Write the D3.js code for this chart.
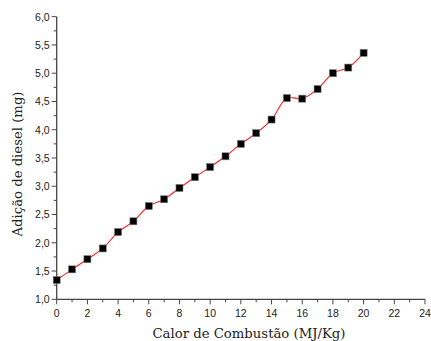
<!DOCTYPE html>
<html><head><meta charset="utf-8">
<script src="https://cdn.jsdelivr.net/npm/d3@7"></script>
<style>body{margin:0;background:#fff}</style>
</head><body>
<svg id="c" width="431" height="341"></svg>
<script>
const xValues = [0,1,2,3,4,5,6,7,8,9,10,11,12,13,14,15,16,17,18,19,20];
const yValues = [1.34,1.53,1.71,1.90,2.19,2.38,2.65,2.77,2.97,3.16,3.34,3.53,3.75,3.94,4.18,4.56,4.55,4.72,5.00,5.10,5.36];
const xTicks = [0,2,4,6,8,10,12,14,16,18,20,22,24];
const yTicks = [1.0,1.5,2.0,2.5,3.0,3.5,4.0,4.5,5.0,5.5,6.0];
const xTitle = "Calor de Combustão (MJ/Kg)";
const yTitle = "Adição de diesel (mg)";

const svg = d3.select("#c");
const x = d3.scaleLinear().domain([0,24]).range([56.7,425]);
const y = d3.scaleLinear().domain([1,6]).range([299.3,16.7]);
const axisColor = "#444";
const fmt = d => d3.format(".1f")(d).replace(".", ",");

// x axis
const gx = svg.append("g");
gx.append("line").attr("x1", x(0)).attr("x2", x(24)).attr("y1", y(1)).attr("y2", y(1))
  .attr("stroke", axisColor).attr("stroke-width", 1.3);
d3.range(0,25,1).forEach(v => {
  const major = v % 2 === 0;
  gx.append("line").attr("x1", x(v)).attr("x2", x(v)).attr("y1", y(1)).attr("y2", y(1) + (major?5:3))
    .attr("stroke", axisColor).attr("stroke-width", 1);
});
xTicks.forEach(v => {
  gx.append("text").attr("x", x(v)).attr("y", y(1)+18).attr("text-anchor","middle")
    .attr("font-family","Liberation Sans, Arial, sans-serif").attr("font-size", 10.5).attr("fill","#222").text(v);
});

// y axis
const gy = svg.append("g");
gy.append("line").attr("x1", x(0)).attr("x2", x(0)).attr("y1", y(1)).attr("y2", y(6))
  .attr("stroke", axisColor).attr("stroke-width", 1.3);
d3.range(0,21,1).forEach(i => {
  const v = 1 + i*0.25;
  const major = i % 2 === 0;
  gy.append("line").attr("x1", x(0)).attr("x2", x(0) - (major?5:3)).attr("y1", y(v)).attr("y2", y(v))
    .attr("stroke", axisColor).attr("stroke-width", 1);
});
yTicks.forEach(v => {
  gy.append("text").attr("x", x(0)-7).attr("y", y(v)+3.8).attr("text-anchor","end")
    .attr("font-family","Liberation Sans, Arial, sans-serif").attr("font-size", 10.5).attr("fill","#222").text(fmt(v));
});

// titles
svg.append("text").attr("x", 249).attr("y", 338).attr("text-anchor","middle")
  .attr("font-family","DejaVu Serif, serif").attr("font-size", 12.5).attr("fill","#222")
  .attr("textLength", 193).attr("lengthAdjust","spacingAndGlyphs").text(xTitle);
svg.append("text").attr("transform","translate(22,164) rotate(-90)").attr("text-anchor","middle")
  .attr("font-family","DejaVu Serif, serif").attr("font-size", 12.5).attr("fill","#222")
  .attr("textLength", 145).attr("lengthAdjust","spacingAndGlyphs").text(yTitle);

// line
const data = xValues.map((v,i) => ({x:v, y:yValues[i]}));
svg.append("path").datum(data)
  .attr("d", d3.line().x(d=>x(d.x)).y(d=>y(d.y)).curve(d3.curveCatmullRom.alpha(0.5)))
  .attr("fill","none").attr("stroke","#ff2020").attr("stroke-width",1.1);

// markers
svg.selectAll("rect.m").data(data).enter().append("rect")
  .attr("x", d=>x(d.x)-3.5).attr("y", d=>y(d.y)-3.5).attr("width",7).attr("height",7)
  .attr("fill","#000").attr("stroke","#777").attr("stroke-width",0.6);
</script>
</body></html>
